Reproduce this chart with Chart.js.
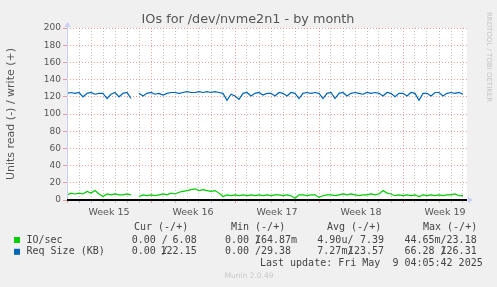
<!DOCTYPE html>
<html>
<head>
<meta charset="utf-8">
<script src="https://cdn.jsdelivr.net/npm/chart.js@4/dist/chart.umd.min.js"></script>
<style>
  html, body { margin: 0; padding: 0; background: #f0f0f0; }
  #wrap { width: 497px; height: 287px; }
</style>
</head>
<body>
<div id="wrap"><canvas id="chart" width="497" height="287"></canvas></div>
<script>
// one sample every 8 hours, starting at the beginning of week 15
const pointsPerDay = 3;
const ioWrite = [
  6, 8, 7,   8, 7, 10,   8, 11, 7,   4, 7, 6,   7, 6, 6,   7, 6, null,   4, 6, 5,
  6, 5, 6,   7, 6, 8,   7, 9, 10,   11, 12, 13,   11, 12, 11,   10, 11, 8,   4, 6, 5,
  6, 5, 6,   5, 6, 5,   6, 5, 6,   5, 6, 6,   5, 6, 5,   2, 6, 6,   5, 6, 6,
  3, 5, 6,   6, 5, 6,   7, 6, 7,   6, 5, 6,   6, 7, 6,   7, 11, 8,   7, 5, 6,
  5, 6, 5,   6, 4, 6,   5, 6, 5,   6, 5, 6,   6, 7, 5,   5
];
const reqSize = [
  124, 125, 124,   125, 120, 124,   125, 123, 124,   124, 118, 123,   125, 120, 124,   125, 118, null,   124, 121, 124,
  125, 123, 124,   122, 124, 125,   125, 124, 125,   126, 125, 125,   126, 125, 126,   125, 126, 125,   124, 116, 123,
  121, 117, 124,   125, 121, 124,   125, 122, 124,   124, 121, 125,   124, 121, 125,   124, 118, 124,   125, 124, 125,
  124, 118, 124,   125, 118, 124,   125, 121, 124,   125, 124, 123,   125, 124, 125,   124, 121, 125,   124, 120, 124,
  124, 121, 125,   124, 116, 124,   124, 121, 125,   125, 121, 124,   125, 124, 125,   123
];
const weekLabels = ["Week 15", "Week 16", "Week 17", "Week 18", "Week 19"];
const totalDays = 100 / 3;

// legend table (read / write)
const seriesNames = ["IO/sec", "Req Size (KB)"];
const seriesColors = ["#00cc00", "#0066b3"];
const colHeaders = ["Cur (-/+)", "Min (-/+)", "Avg (-/+)", "Max (-/+)"];
const readText = [
  ["0.00 ", "0.00 ", "4.90u", "44.65m"],
  ["0.00 ", "0.00 ", "7.27m", "66.28 "]
];
const writeText = [
  ["6.08 ", "164.87m", "7.39 ", "23.18 "],
  ["122.15 ", "29.38 ", "123.57 ", "126.31 "]
];

const toPoints = arr => arr.map((v, i) => ({ x: i / pointsPerDay, y: v }));

const RED = "rgba(225, 120, 120, 0.7)";
const GRAY = "rgba(160, 160, 160, 0.6)";
const AXIS = "#c8cff5";
const TXT = "#555";

const muninPlugin = {
  id: "munin",
  beforeDraw(chart) {
    const { ctx, chartArea: a } = chart;
    ctx.save();
    ctx.fillStyle = "#f0f0f0";
    ctx.fillRect(0, 0, chart.width, chart.height);
    ctx.fillStyle = "#ffffff";
    ctx.fillRect(a.left, a.top, a.right - a.left, a.bottom - a.top);
    ctx.restore();
  },
  afterDatasetsDraw(chart) {
    const { ctx, chartArea: a } = chart;
    ctx.save();
    // axis lines and arrows
    ctx.strokeStyle = AXIS;
    ctx.lineWidth = 1;
    ctx.beginPath();
    ctx.moveTo(a.left + 0.5, a.bottom);
    ctx.lineTo(a.left + 0.5, a.top - 3);
    ctx.stroke();
    ctx.fillStyle = AXIS;
    ctx.beginPath();
    ctx.moveTo(a.left - 2.5, a.top - 1);
    ctx.lineTo(a.left + 3.5, a.top - 1);
    ctx.lineTo(a.left + 0.5, a.top - 6);
    ctx.closePath();
    ctx.fill();
    ctx.beginPath();
    ctx.moveTo(a.right + 1, a.bottom - 3);
    ctx.lineTo(a.right + 1, a.bottom + 3);
    ctx.lineTo(a.right + 6, a.bottom);
    ctx.closePath();
    ctx.fill();
    // zero line
    ctx.fillStyle = "#000";
    ctx.fillRect(a.left, a.bottom - 1, a.right - a.left, 2);
    ctx.restore();
  },
  afterDraw(chart) {
    const { ctx } = chart;
    ctx.save();
    ctx.textBaseline = "middle";

    ctx.fillStyle = TXT;
    ctx.textAlign = "center";
    ctx.font = '12.8px "DejaVu Sans"';
    ctx.fillText("IOs for /dev/nvme2n1 - by month", 248, 19.5);

    ctx.save();
    ctx.translate(11.5, 114);
    ctx.rotate(-Math.PI / 2);
    ctx.font = '11px "DejaVu Sans"';
    ctx.fillText("Units read (-) / write (+)", 0, 0);
    ctx.restore();

    ctx.save();
    ctx.translate(488.5, 57);
    ctx.rotate(Math.PI / 2);
    ctx.fillStyle = "#c4c4c4";
    ctx.font = '7px "DejaVu Sans"';
    ctx.fillText("RRDTOOL / TOBI OETIKER", 0, 0);
    ctx.restore();

    // legend
    ctx.font = '10px "DejaVu Sans Mono"';
    ctx.fillStyle = "#444";
    ctx.textAlign = "left";
    const headerX = [134, 231, 327, 423];
    colHeaders.forEach((h, i) => ctx.fillText(h, headerX[i], 227.5));

    const slashX = [161.8, 255, 347.4, 440.5];
    const writeEnd = [202.7, 297, 390, 482.7];
    const rowY = [240, 251.8];
    seriesNames.forEach((name, r) => {
      ctx.fillStyle = seriesColors[r];
      ctx.fillRect(14, rowY[r] - 3, 6, 6);
      ctx.fillStyle = "#444";
      ctx.textAlign = "left";
      ctx.fillText(name, 26.5, rowY[r]);
      for (let c = 0; c < 4; c++) {
        ctx.textAlign = "right";
        ctx.fillText(readText[r][c], slashX[c], rowY[r]);
        ctx.textAlign = "left";
        ctx.fillText("/", slashX[c], rowY[r]);
        ctx.textAlign = "right";
        ctx.fillText(writeText[r][c], writeEnd[c], rowY[r]);
      }
    });
    ctx.textAlign = "right";
    ctx.fillText("Last update: Fri May  9 04:05:42 2025", 482.7, 263.6);

    ctx.textAlign = "center";
    ctx.fillStyle = "#c8c8c8";
    ctx.font = '7.5px "DejaVu Sans"';
    ctx.fillText("Munin 2.0.49", 249, 276);
    ctx.restore();
  }
};

new Chart(document.getElementById("chart"), {
  type: "line",
  data: {
    datasets: [
      {
        label: "Req Size (KB)",
        data: toPoints(reqSize),
        borderColor: "#0066b3",
        borderWidth: 1.2,
        pointRadius: 0,
        tension: 0,
        spanGaps: false
      },
      {
        label: "IO/sec",
        data: toPoints(ioWrite),
        borderColor: "#00cc00",
        borderWidth: 1.2,
        pointRadius: 0,
        tension: 0,
        spanGaps: false
      }
    ]
  },
  plugins: [muninPlugin],
  options: {
    responsive: false,
    animation: false,
    devicePixelRatio: 1,
    layout: { padding: { left: 0, top: 28, right: 30, bottom: 0 } },
    plugins: { legend: { display: false }, tooltip: { enabled: false }, title: { display: false } },
    scales: {
      x: {
        type: "linear",
        min: 0,
        max: totalDays,
        afterBuildTicks: axis => {
          axis.ticks = [];
          for (let d = 0; d <= 33; d++) axis.ticks.push({ value: d });
        },
        afterFit: axis => { axis.height = 0; },
        ticks: { display: false },
        border: { display: false, dash: [1, 2] },
        grid: {
          color: c => (c.tick && c.tick.value % 7 === 0 ? RED : GRAY),
          drawTicks: true,
          tickLength: 3,
          lineWidth: 1
        }
      },
      x2: {
        type: "linear",
        position: "bottom",
        min: 0,
        max: totalDays,
        afterBuildTicks: axis => {
          axis.ticks = weekLabels.map((_, i) => ({ value: 3.5 + 7 * i }));
        },
        afterFit: axis => { axis.height = 87; },
        grid: { display: false, drawTicks: false },
        border: { display: false },
        ticks: {
          autoSkip: false,
          maxRotation: 0,
          padding: 7,
          color: TXT,
          font: { family: "DejaVu Sans", size: 9.5 },
          callback: (v, i) => weekLabels[i]
        }
      },
      y: {
        min: 0,
        max: 200,
        afterBuildTicks: axis => {
          axis.ticks = [];
          for (let v = 0; v <= 200; v += 10) axis.ticks.push({ value: v });
        },
        afterFit: axis => { axis.width = 67; },
        border: { display: false, dash: [1, 2] },
        grid: {
          color: c => (c.tick && c.tick.value % 20 === 0 ? RED : GRAY),
          drawTicks: true,
          tickLength: 4,
          lineWidth: 1
        },
        ticks: {
          padding: 2,
          color: TXT,
          font: { family: "DejaVu Sans", size: 9 },
          callback: v => (v % 20 === 0 ? String(v) : "")
        }
      }
    }
  }
});
</script>
</body>
</html>
